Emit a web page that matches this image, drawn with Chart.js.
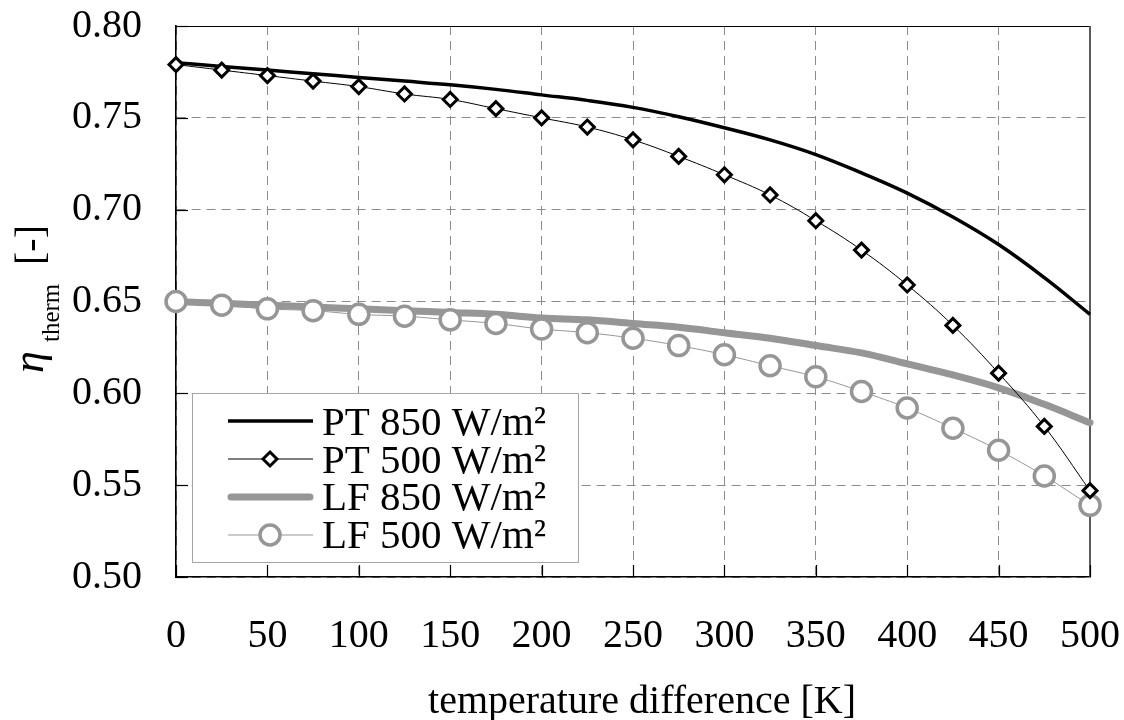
<!DOCTYPE html>
<html><head><meta charset="utf-8">
<script src="https://cdn.jsdelivr.net/npm/chart.js@4.4.1/dist/chart.umd.min.js"></script>
<style>html,body{margin:0;padding:0;background:#fff;} #wrap{width:1124px;height:720px;position:relative;}</style>
</head><body><div id="wrap"><canvas id="c" width="1124" height="720"></canvas></div>
<script>
// ---- data ----
const tempDiff = [0,25,50,75,100,125,150,175,200,225,250,275,300,325,350,375,400,425,450,475,500];
const pt850 = [0.780,0.778,0.776,0.774,0.772,0.770,0.768,0.7655,0.7625,0.7595,0.7557,0.7506,0.7446,0.738,0.730,0.720,0.709,0.696,0.681,0.663,0.643];
const pt500 = [0.779,0.776,0.773,0.770,0.767,0.763,0.760,0.755,0.750,0.745,0.738,0.729,0.719,0.708,0.694,0.678,0.659,0.637,0.611,0.582,0.547];
const lf850 = [0.650,0.649,0.648,0.647,0.646,0.645,0.644,0.643,0.641,0.640,0.638,0.636,0.633,0.630,0.626,0.622,0.616,0.610,0.603,0.594,0.584];
const lf500 = [0.650,0.648,0.646,0.645,0.643,0.642,0.640,0.638,0.635,0.633,0.630,0.626,0.621,0.615,0.609,0.601,0.592,0.581,0.569,0.555,0.539];
const seriesLabels = ['PT 850 W/m²','PT 500 W/m²','LF 850 W/m²','LF 500 W/m²'];
const xTicks = [0,50,100,150,200,250,300,350,400,450,500];
const yTicks = [0.50,0.55,0.60,0.65,0.70,0.75,0.80];
const xTitle = 'temperature difference [K]';
const yTitleSymbol = 'η', yTitleSub = 'therm', yTitleUnit = '[-]';

const GRAY = '#969696';
const FONT = '"Liberation Serif", "Times New Roman", serif';
const pts = arr => arr.map((v,i)=>({x:tempDiff[i], y:v}));

const styles = [
  {color:'#000', width:3.5, point:false},
  {color:'#000', width:1, point:'rectRot', r:7, bw:3},
  {color:GRAY, width:7, point:false, cap:'round'},
  {color:GRAY, width:1, point:'circle', r:10, bw:3.5}
];

const decor = {
  id:'decor',
  beforeDatasetsDraw(chart){
    const {ctx, chartArea:a, scales:{x, y}} = chart;
    ctx.save();
    ctx.strokeStyle='#000'; ctx.lineWidth=1;
    ctx.beginPath(); ctx.moveTo(a.left, a.top+0.5); ctx.lineTo(a.right, a.top+0.5); ctx.stroke();
    ctx.strokeStyle='#5a5a5a'; ctx.lineWidth=2;
    ctx.beginPath(); ctx.moveTo(a.right, a.top); ctx.lineTo(a.right, a.bottom); ctx.stroke();
    ctx.strokeStyle='#000'; ctx.lineWidth=1.2;
    xTicks.forEach(v=>{const p=Math.round(x.getPixelForValue(v))+0.5; ctx.beginPath(); ctx.moveTo(p,a.bottom); ctx.lineTo(p,a.bottom-12); ctx.stroke();});
    yTicks.forEach(v=>{const p=Math.round(y.getPixelForValue(v))+0.5; ctx.beginPath(); ctx.moveTo(a.left,p); ctx.lineTo(a.left+12,p); ctx.stroke();});
    // legend
    const bx=192.5, by=393.5, bw=386, bh=169;
    ctx.fillStyle='#fff'; ctx.fillRect(bx,by,bw,bh);
    ctx.strokeStyle='#a6a6a6'; ctx.lineWidth=1; ctx.strokeRect(bx,by,bw,bh);
    const rowsY=[421,459,497,535], baseY=[435,473,510,548];
    styles.forEach((s,i)=>{
      const cy=rowsY[i];
      ctx.strokeStyle=s.color; ctx.lineWidth=s.width; ctx.lineCap=s.cap||'butt';
      ctx.beginPath();
      if(s.cap==='round'){ctx.moveTo(231,cy); ctx.lineTo(310,cy);} else {ctx.moveTo(228,cy); ctx.lineTo(313,cy);}
      ctx.stroke();
      ctx.lineCap='butt';
      if(s.point){
        ctx.fillStyle='#fff'; ctx.strokeStyle=s.color; ctx.lineWidth=s.bw;
        ctx.beginPath();
        if(s.point==='circle'){ctx.arc(270,cy,s.r,0,Math.PI*2);} else {ctx.moveTo(270-s.r,cy);ctx.lineTo(270,cy-s.r);ctx.lineTo(270+s.r,cy);ctx.lineTo(270,cy+s.r);ctx.closePath();}
        ctx.fill(); ctx.stroke();
      }
      ctx.fillStyle='#000'; ctx.font='41px '+FONT; ctx.textBaseline='alphabetic'; ctx.textAlign='left';
      ctx.fillText(seriesLabels[i],322,baseY[i]);
    });
    ctx.restore();
  },
  afterDraw(chart){
    const {ctx} = chart;
    ctx.save();
    ctx.fillStyle='#000';
    ctx.font='40px '+FONT; ctx.textAlign='center'; ctx.textBaseline='alphabetic';
    ctx.fillText(xTitle, 642, 713);
    ctx.translate(43,373); ctx.rotate(-Math.PI/2);
    ctx.textAlign='left';
    ctx.font='italic 44px '+FONT; ctx.fillText(yTitleSymbol,0,0);
    ctx.font='25px '+FONT; ctx.fillText(yTitleSub,31,16);
    ctx.font='40px '+FONT; ctx.fillText(yTitleUnit,108,0);
    ctx.restore();
  }
};

const datasets = [pt850, pt500, lf850, lf500].map((d,i)=>{
  const s=styles[i];
  return {
    label: seriesLabels[i], data: pts(d),
    borderColor: s.color, borderWidth: s.width, backgroundColor:'#fff',
    pointStyle: s.point || 'circle', pointRadius: s.point ? s.r : 0,
    pointBorderWidth: s.bw || 0, pointBorderColor: s.color, pointBackgroundColor:'#fff',
    pointHoverRadius: s.point ? s.r : 0,
    tension: 0.4, borderCapStyle: s.cap || 'butt',
    clip: false, order: [3,1,4,2][i]
  };
});

new Chart(document.getElementById('c'), {
  type:'line',
  data:{datasets},
  options:{
    responsive:false, animation:false, devicePixelRatio:1,
    layout:{padding:{top:26,right:34,left:0,bottom:0}},
    plugins:{legend:{display:false}, tooltip:{enabled:false}},
    scales:{
      x:{type:'linear', min:0, max:500,
        afterBuildTicks: sc => { sc.ticks = xTicks.map(v=>({value:v})); },
        afterFit: sc => { sc.height = 143; sc.paddingLeft = 0; sc.paddingRight = 0; sc.paddingTop = 0; sc.paddingBottom = 0; },
        ticks:{color:'#000', font:{family:FONT, size:40}, padding:35, maxRotation:0, autoSkip:false},
        grid:{color:'#8c8c8c', lineWidth:1, drawTicks:false},
        border:{color:'#000', width:1.6, dash:[9,6]}
      },
      y:{type:'linear', min:0.5, max:0.8,
        afterBuildTicks: sc => { sc.ticks = yTicks.map(v=>({value:v})); },
        afterFit: sc => { sc.width = 176; sc.paddingTop = 0; sc.paddingBottom = 0; sc.paddingLeft = 0; sc.paddingRight = 0; },
        ticks:{color:'#000', font:{family:FONT, size:40}, padding:34, callback:v=>v.toFixed(2)},
        grid:{color:'#8c8c8c', lineWidth:1, drawTicks:false},
        border:{color:'#000', width:1.6, dash:[9,6]}
      }
    }
  },
  plugins:[decor]
});
</script></body></html>
